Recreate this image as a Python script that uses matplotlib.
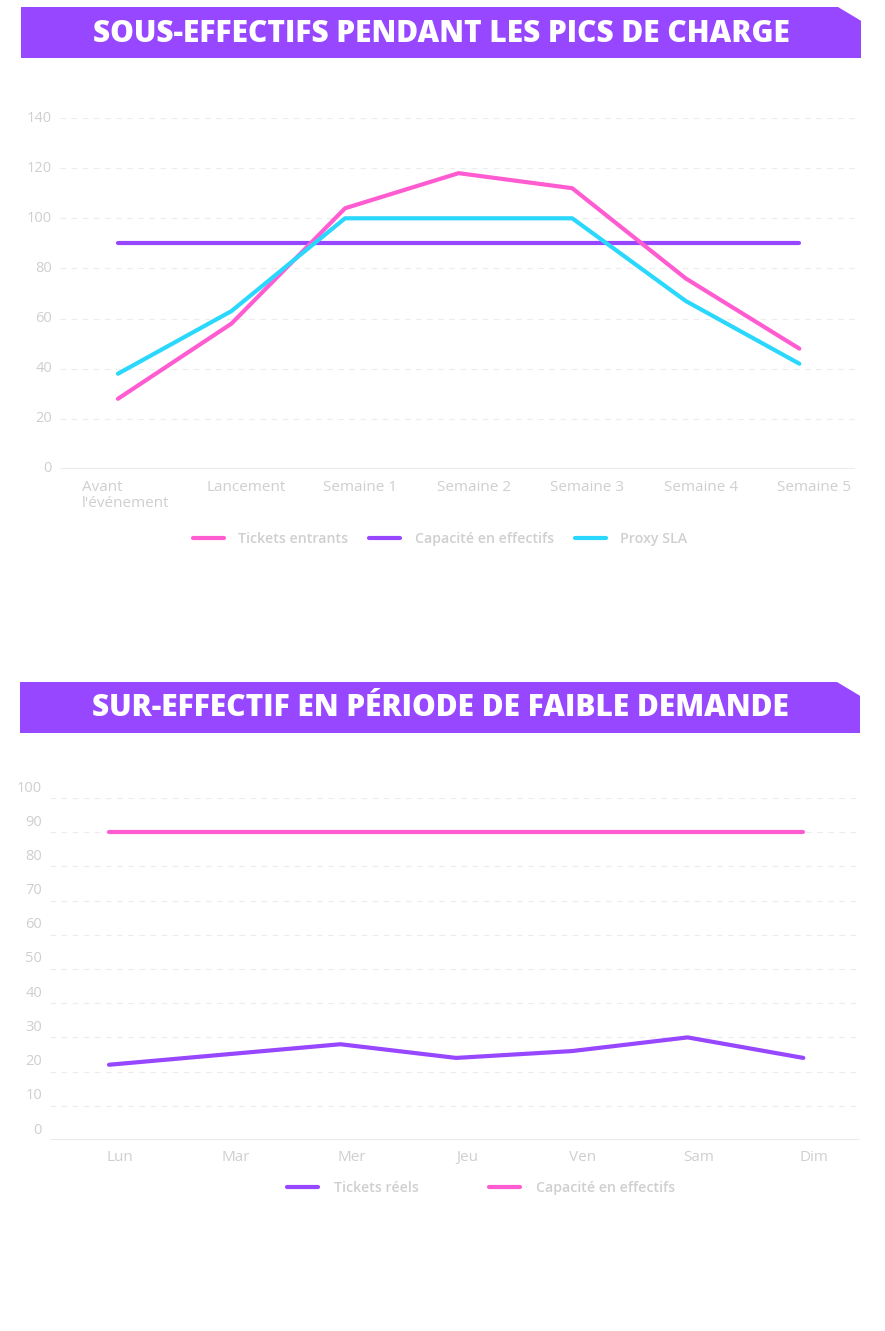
import numpy as np
import matplotlib.pyplot as plt
from matplotlib.patches import Polygon
from matplotlib.lines import Line2D
from matplotlib.transforms import ScaledTranslation, blended_transform_factory

plt.rcParams['font.family'] = ['Open Sans', 'DejaVu Sans']

# data, chart 1
periodes = ["Avant\nl'événement", "Lancement", "Semaine 1", "Semaine 2",
            "Semaine 3", "Semaine 4", "Semaine 5"]
tickets_entrants = [28, 58, 104, 118, 112, 76, 48]
capacite_1 = [90, 90, 90, 90, 90, 90, 90]
proxy_sla = [38, 63, 100, 100, 100, 67, 42]
yticks_1 = [0, 20, 40, 60, 80, 100, 120, 140]

# data, chart 2
jours = ["Lun", "Mar", "Mer", "Jeu", "Ven", "Sam", "Dim"]
tickets_reels = [22, 25, 28, 24, 26, 30, 24]
capacite_2 = [90, 90, 90, 90, 90, 90, 90]
yticks_2 = [0, 10, 20, 30, 40, 50, 60, 70, 80, 90, 100]

PINK = '#ff5cd1'
PURPLE = '#9747ff'
CYAN = '#2ad8fd'
LABEL = '#cfcfcf'
GRID = '#ececec'

W, H = 885, 1331
fig = plt.figure(figsize=(W / 100, H / 100), dpi=100)


def fx(px):
    return px / W


def fy(py):
    return 1 - py / H


def banner(x0, x1, y0, y1, cut, text):
    pts = [(fx(x0), fy(y0)), (fx(x1 - cut), fy(y0)), (fx(x1), fy(y0 + cut * 0.6)),
           (fx(x1), fy(y1)), (fx(x0), fy(y1))]
    fig.add_artist(Polygon(pts, closed=True, transform=fig.transFigure,
                           facecolor=PURPLE, edgecolor='none'))
    fig.text(fx((x0 + x1) / 2), fy((y0 + y1) / 2 + 1), text, color='white',
             fontsize=21.5, fontweight='heavy', ha='center', va='center')


def style_axes(ax, n, yticks, ylabels_dy):
    ax.set_xlim(-0.51, n - 0.51)
    ax.set_ylim(yticks[0], yticks[-1])
    ax.set_yticks(yticks[1:])
    ax.set_yticklabels([])
    ax.set_xticks([])
    ax.tick_params(length=0)
    for s in ['top', 'right', 'left', 'bottom']:
        ax.spines[s].set_visible(False)
    ax.grid(axis='y', color=GRID, linestyle=(0, (5, 5)), linewidth=0.8)
    ax.axhline(yticks[0], color='#e6e6e6', lw=1.2, zorder=1)
    ax.set_axisbelow(True)
    # y labels
    tr = blended_transform_factory(ax.transAxes, ax.transData)
    off = ScaledTranslation(-8 / 100, ylabels_dy / 100, fig.dpi_scale_trans)
    for v in yticks:
        ax.text(0, v, str(v), transform=tr + off, ha='right', va='center',
                color=LABEL, fontsize=10.5)


# ---------- chart 1 ----------
banner(21, 861, 7, 58, 23, "SOUS-EFFECTIFS PENDANT LES PICS DE CHARGE")
ax1 = fig.add_axes([fx(60), fy(469), fx(855) - fx(60), fy(118) - fy(469)])
x1 = np.arange(len(periodes))
ax1.plot(x1, capacite_1, color=PURPLE, lw=3, solid_capstyle='round')
ax1.plot(x1, tickets_entrants, color=PINK, lw=3, solid_capstyle='round')
ax1.plot(x1, proxy_sla, color=CYAN, lw=3, solid_capstyle='round')
style_axes(ax1, len(periodes), yticks_1, 0)
trx = blended_transform_factory(ax1.transData, ax1.transAxes)
for i, lab in enumerate(periodes):
    dx = 8 if i == 0 else 15
    off = ScaledTranslation(dx / 100, -11 / 100, fig.dpi_scale_trans)
    ax1.text(i, 0, lab, transform=trx + off, ha='center', va='top',
             multialignment='left', color=LABEL, fontsize=11, linespacing=1.05)

handles1 = [Line2D([], [], color=PINK, lw=3, solid_capstyle='round'),
            Line2D([], [], color=PURPLE, lw=3, solid_capstyle='round'),
            Line2D([], [], color=CYAN, lw=3, solid_capstyle='round')]
leg1 = fig.legend(handles1, ["Tickets entrants", "Capacité en effectifs", "Proxy SLA"],
                  loc='center', bbox_to_anchor=(fx(440), fy(539)), ncol=3,
                  frameon=False, handlelength=2.2, handletextpad=1.0,
                  columnspacing=1.5, prop={'size': 10.2, 'weight': 'semibold'})
for t in leg1.get_texts():
    t.set_color(LABEL)

# ---------- chart 2 ----------
banner(20, 860, 682, 733, 23, "SUR-EFFECTIF EN PÉRIODE DE FAIBLE DEMANDE")
ax2 = fig.add_axes([fx(50), fy(1140), fx(860) - fx(50), fy(798) - fy(1140)])
x2 = np.arange(len(jours))
ax2.plot(x2, capacite_2, color=PINK, lw=3, solid_capstyle='round')
ax2.plot(x2, tickets_reels, color=PURPLE, lw=3, solid_capstyle='round')
style_axes(ax2, len(jours), yticks_2, 10)
trx2 = blended_transform_factory(ax2.transData, ax2.transAxes)
for i, lab in enumerate(jours):
    off = ScaledTranslation(11 / 100, -10 / 100, fig.dpi_scale_trans)
    ax2.text(i, 0, lab, transform=trx2 + off, ha='center', va='top',
             color=LABEL, fontsize=11)

handles2 = [Line2D([], [], color=PURPLE, lw=3, solid_capstyle='round'),
            Line2D([], [], color=PINK, lw=3, solid_capstyle='round')]
leg2 = fig.legend(handles2, ["Tickets réels", "Capacité en effectifs"],
                  loc='center', bbox_to_anchor=(fx(481), fy(1188)), ncol=2,
                  frameon=False, handlelength=2.2, handletextpad=1.1,
                  columnspacing=5.0, prop={'size': 10.2, 'weight': 'semibold'})
for t in leg2.get_texts():
    t.set_color(LABEL)

fig.savefig('out.png', dpi=100)
